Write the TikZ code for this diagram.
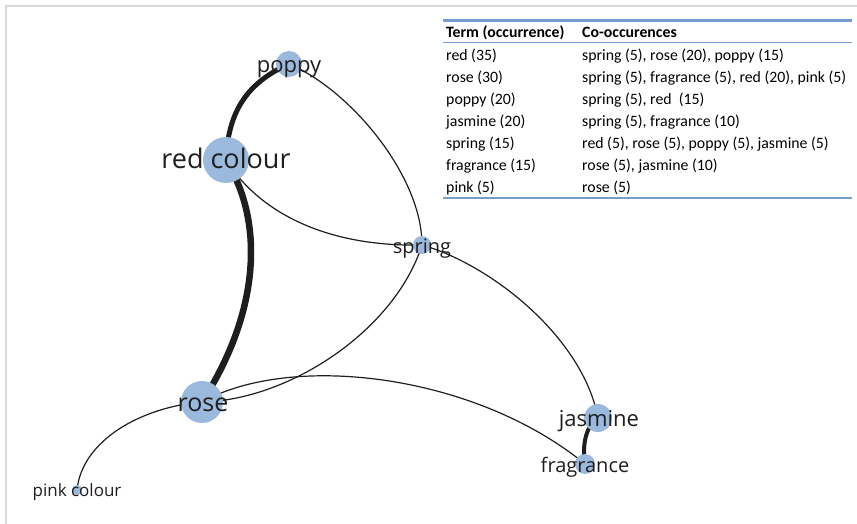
\documentclass[tikz,border=0pt]{standalone}
\usepackage{fontspec}
\setmainfont{Open Sans}
\newfontfamily\tablefont{Carlito}
\usetikzlibrary{backgrounds}
\definecolor{nodeblue}{RGB}{155,185,220}
\definecolor{edgeink}{RGB}{30,30,30}
\definecolor{rulegray}{RGB}{217,217,217}
\definecolor{ruleblue}{RGB}{118,157,208}
\definecolor{labelink}{RGB}{30,30,30}
\begin{document}
\begin{tikzpicture}[x=1pt,y=-1pt,
  term/.style={circle,fill=nodeblue,draw=none,inner sep=0pt,minimum size=#1},
  lbl/.style={anchor=mid,inner sep=0pt,text=labelink,font=\fontsize{#1}{#1}\selectfont},
  thin edge/.style={draw=edgeink,line width=1.2pt},
  heavy edge/.style={draw=edgeink,line width=#1},
  cell/.style={anchor=base west,inner sep=0pt,font=\tablefont\fontsize{15.8}{17}\selectfont},
  head/.style={cell,font=\tablefont\bfseries\fontsize{15.8}{17}\selectfont}]
\useasboundingbox (0,0) rectangle (857,524);
% frame
\draw[rulegray,line width=2.5pt] (6,524) -- (6,6) -- (857,6);

% term circles
\node[term=26pt] (poppy) at (289,64) {};
\node[term=46pt] (red) at (226,160) {};
\node[term=18pt] (spring) at (422,245) {};
\node[term=42pt] (rose) at (202,402) {};
\node[term=28pt] (jasmine) at (598,418) {};
\node[term=20pt] (fragrance) at (585,464) {};
\node[term=10pt] (pink) at (77,490) {};

% co-occurrence edges, beneath the circles
\begin{scope}[on background layer]
\draw[heavy edge=5pt] (poppy.center) .. controls +(-45,20) and +(2,-45) .. (red.center);
\draw[heavy edge=6.5pt] (red.center) .. controls +(40,65) and +(56,-87) .. (rose.center);
\draw[thin edge] (poppy.center) .. controls +(60,25) and +(0,-70) .. (spring.center);
\draw[thin edge] (red.center) .. controls +(35,55) and +(-92,2) .. (spring.center);
\draw[thin edge] (spring.center) .. controls +(-27,85) and +(88,-2) .. (rose.center);
\draw[thin edge] (spring.center) .. controls +(70,20) and +(-15,-80) .. (jasmine.center);
\draw[thin edge] (rose.center) .. controls +(90,-50) and +(-110,-90) .. (fragrance.center);
\draw[heavy edge=4pt] (jasmine.center) .. controls +(-12,8) and +(-3,-20) .. (fragrance.center);
\draw[thin edge] (rose.center) .. controls +(-60,5) and +(5,-50) .. (pink.center);
\end{scope}

% term labels
\node[lbl=27] (redlbl) at (226,166) {red colour};
\node[lbl=22] (poppylbl) at (289,70) {poppy};
\node[lbl=20] (springlbl) at (422,251) {spring};
\node[lbl=25] (roselbl) at (203,409) {rose};
\node[lbl=22] (jasminelbl) at (599,424) {jasmine};
\node[lbl=20] (fragrancelbl) at (585,470) {fragrance};
\node[lbl=17] (pinklbl) at (77,494) {pink colour};

% occurrence table
\draw[ruleblue,line width=2.2pt] (443,20.5) -- (852,20.5);
\draw[ruleblue,line width=1pt] (443,43) -- (852,43);
\draw[ruleblue,line width=1.8pt] (443,198) -- (852,198);
\node[head] (h1) at (446,37.5) {Term (occurrence)};
\node[head] (h2) at (582,37.5) {Co-occurences};
\node[cell] (t1) at (446,60.5) {red (35)};
\node[cell] (c1) at (582,60.5) {spring (5), rose (20), poppy (15)};
\node[cell] (t2) at (446,82.5) {rose (30)};
\node[cell] (c2) at (582,82.5) {spring (5), fragrance (5), red (20), pink (5)};
\node[cell] (t3) at (446,104.5) {poppy (20)};
\node[cell] (c3) at (582,104.5) {spring (5), red~~(15)};
\node[cell] (t4) at (446,126.5) {jasmine (20)};
\node[cell] (c4) at (582,126.5) {spring (5), fragrance (10)};
\node[cell] (t5) at (446,148.5) {spring (15)};
\node[cell] (c5) at (582,148.5) {red (5), rose (5), poppy (5), jasmine (5)};
\node[cell] (t6) at (446,170.5) {fragrance (15)};
\node[cell] (c6) at (582,170.5) {rose (5), jasmine (10)};
\node[cell] (t7) at (446,192.5) {pink (5)};
\node[cell] (c7) at (582,192.5) {rose (5)};
\end{tikzpicture}
\end{document}
